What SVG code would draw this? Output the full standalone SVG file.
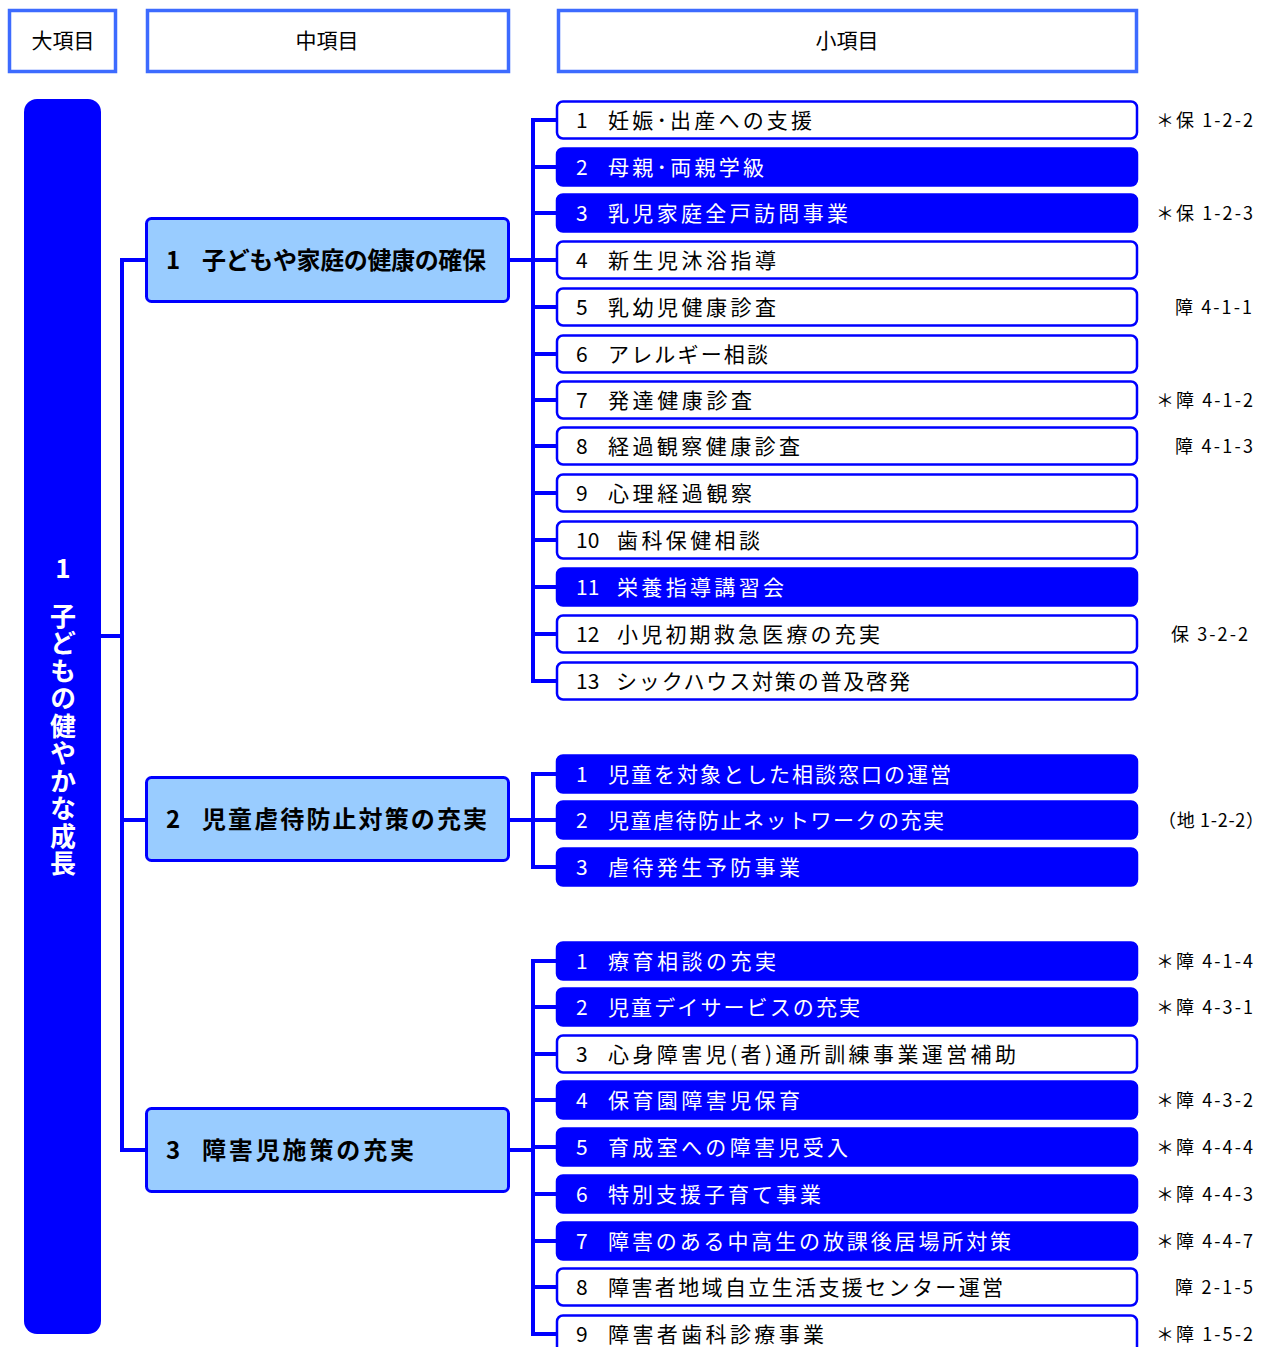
<svg xmlns="http://www.w3.org/2000/svg" width="1270" height="1347" viewBox="0 0 1270 1347">
<style>
text{font-family:"Noto Sans CJK JP","Liberation Sans",sans-serif}
.hdr{fill:#fff;stroke:#3d6bff;stroke-width:3.5}
.ht{font-size:21px;fill:#000;text-anchor:middle}
.mid{fill:#99ccff;stroke:#0000ff;stroke-width:3}
.mt{font-size:24px;font-weight:bold;fill:#000}
.io{fill:#fff;stroke:#0000ff;stroke-width:2.5}
.if{fill:#0000ff;stroke:#0000ff;stroke-width:2.5}
.to{font-size:21px;fill:#000}
.tf{font-size:21px;fill:#fff}
.lb{font-size:18px;fill:#000}
.conn{fill:none;stroke:#0000ff;stroke-width:4}
.vt{font-size:26px;font-weight:bold;fill:#fff;text-anchor:middle}
</style>

<g id="headers">
<g id="h-dai"><rect class="hdr" x="9.5" y="10.5" width="106" height="61"/><text class="ht" x="63" y="48">大項目</text></g>
<g id="h-chu"><rect class="hdr" x="147.5" y="10.5" width="361" height="61"/><text class="ht" x="327" y="48">中項目</text></g>
<g id="h-sho"><rect class="hdr" x="558.5" y="10.5" width="578" height="61"/><text class="ht" x="847" y="48">小項目</text></g>
</g>

<g id="connectors">
<path class="conn" d="M100,636 H122 M122,258 V1152 M122,260 H146 M122,820 H146 M122,1150 H146"/>
<path class="conn" d="M509,260 H533 M533,118 V683 M533,120 H557 M533,167 H557 M533,213 H557 M533,260 H557 M533,307 H557 M533,354 H557 M533,400 H557 M533,446 H557 M533,493 H557 M533,540 H557 M533,587 H557 M533,634 H557 M533,681 H557"/>
<path class="conn" d="M509,820 H533 M533,772 V869 M533,774 H557 M533,820 H557 M533,867 H557"/>
<path class="conn" d="M509,1150 H533 M533,959 V1336 M533,961 H557 M533,1007 H557 M533,1054 H557 M533,1100 H557 M533,1147 H557 M533,1194 H557 M533,1241 H557 M533,1287 H557 M533,1334 H557"/>
</g>

<g id="dai1">
<rect x="24" y="99" width="77" height="1235" rx="13" fill="#0000ff"/>
<text class="vt" x="63" y="578">1</text>
<text x="63" y="603" font-size="26" font-weight="bold" fill="#fff" style="writing-mode:vertical-rl" letter-spacing="1.5">子どもの健やかな成長</text>
</g>

<g id="chu1"><rect class="mid" x="146.5" y="218.5" width="362" height="83" rx="5"/><text class="mt" x="166" y="269">1</text><text class="mt" x="202" y="269" textLength="284" lengthAdjust="spacing">子どもや家庭の健康の確保</text></g>
<g id="chu2"><rect class="mid" x="146.5" y="777.5" width="362" height="83" rx="5"/><text class="mt" x="166" y="828">2</text><text class="mt" x="202" y="828" textLength="285" lengthAdjust="spacing">児童虐待防止対策の充実</text></g>
<g id="chu3"><rect class="mid" x="146.5" y="1108.5" width="362" height="83" rx="5"/><text class="mt" x="166" y="1159">3</text><text class="mt" x="202" y="1159" textLength="212" lengthAdjust="spacing">障害児施策の充実</text></g>

<g id="g1-1"><rect class="io" x="557" y="101.5" width="580" height="37" rx="6"/><text class="to" x="576" y="128">1</text><text class="to" x="608" y="128" textLength="204" lengthAdjust="spacing">妊娠･出産への支援</text><text class="lb" x="1156" y="127" textLength="97" lengthAdjust="spacing">＊保 1-2-2</text></g>
<g id="g1-2"><rect class="if" x="557" y="148.5" width="580" height="37" rx="6"/><text class="tf" x="576" y="175">2</text><text class="tf" x="608" y="175" textLength="156" lengthAdjust="spacing">母親･両親学級</text></g>
<g id="g1-3"><rect class="if" x="557" y="194.5" width="580" height="37" rx="6"/><text class="tf" x="576" y="221">3</text><text class="tf" x="608" y="221" textLength="240" lengthAdjust="spacing">乳児家庭全戸訪問事業</text><text class="lb" x="1156" y="220" textLength="97" lengthAdjust="spacing">＊保 1-2-3</text></g>
<g id="g1-4"><rect class="io" x="557" y="241.5" width="580" height="37" rx="6"/><text class="to" x="576" y="268">4</text><text class="to" x="608" y="268" textLength="168" lengthAdjust="spacing">新生児沐浴指導</text></g>
<g id="g1-5"><rect class="io" x="557" y="288.5" width="580" height="37" rx="6"/><text class="to" x="576" y="315">5</text><text class="to" x="608" y="315" textLength="168" lengthAdjust="spacing">乳幼児健康診査</text><text class="lb" x="1175" y="314" textLength="77" lengthAdjust="spacing">障 4-1-1</text></g>
<g id="g1-6"><rect class="io" x="557" y="335.5" width="580" height="37" rx="6"/><text class="to" x="576" y="362">6</text><text class="to" x="608" y="362" textLength="160" lengthAdjust="spacing">アレルギー相談</text></g>
<g id="g1-7"><rect class="io" x="557" y="381.5" width="580" height="37" rx="6"/><text class="to" x="576" y="408">7</text><text class="to" x="608" y="408" textLength="144" lengthAdjust="spacing">発達健康診査</text><text class="lb" x="1156" y="407" textLength="97" lengthAdjust="spacing">＊障 4-1-2</text></g>
<g id="g1-8"><rect class="io" x="557" y="427.5" width="580" height="37" rx="6"/><text class="to" x="576" y="454">8</text><text class="to" x="608" y="454" textLength="192" lengthAdjust="spacing">経過観察健康診査</text><text class="lb" x="1175" y="453" textLength="78" lengthAdjust="spacing">障 4-1-3</text></g>
<g id="g1-9"><rect class="io" x="557" y="474.5" width="580" height="37" rx="6"/><text class="to" x="576" y="501">9</text><text class="to" x="608" y="501" textLength="144" lengthAdjust="spacing">心理経過観察</text></g>
<g id="g1-10"><rect class="io" x="557" y="521.5" width="580" height="37" rx="6"/><text class="to" x="576" y="548">10</text><text class="to" x="617" y="548" textLength="143" lengthAdjust="spacing">歯科保健相談</text></g>
<g id="g1-11"><rect class="if" x="557" y="568.5" width="580" height="37" rx="6"/><text class="tf" x="576" y="595">11</text><text class="tf" x="617" y="595" textLength="167" lengthAdjust="spacing">栄養指導講習会</text></g>
<g id="g1-12"><rect class="io" x="557" y="615.5" width="580" height="37" rx="6"/><text class="to" x="576" y="642">12</text><text class="to" x="617" y="642" textLength="263" lengthAdjust="spacing">小児初期救急医療の充実</text><text class="lb" x="1171" y="641" textLength="77" lengthAdjust="spacing">保 3-2-2</text></g>
<g id="g1-13"><rect class="io" x="557" y="662.5" width="580" height="37" rx="6"/><text class="to" x="576" y="689">13</text><text class="to" x="616" y="689" textLength="294" lengthAdjust="spacing">シックハウス対策の普及啓発</text></g>

<g id="g2-1"><rect class="if" x="557" y="755.5" width="580" height="37" rx="6"/><text class="tf" x="576" y="782">1</text><text class="tf" x="608" y="782" textLength="343" lengthAdjust="spacing">児童を対象とした相談窓口の運営</text></g>
<g id="g2-2"><rect class="if" x="557" y="801.5" width="580" height="37" rx="6"/><text class="tf" x="576" y="828">2</text><text class="tf" x="608" y="828" textLength="336" lengthAdjust="spacing">児童虐待防止ネットワークの充実</text><text class="lb" x="1158" y="827" textLength="106" lengthAdjust="spacing">（地 1-2-2）</text></g>
<g id="g2-3"><rect class="if" x="557" y="848.5" width="580" height="37" rx="6"/><text class="tf" x="576" y="875">3</text><text class="tf" x="608" y="875" textLength="192" lengthAdjust="spacing">虐待発生予防事業</text></g>

<g id="g3-1"><rect class="if" x="557" y="942.5" width="580" height="37" rx="6"/><text class="tf" x="576" y="969">1</text><text class="tf" x="608" y="969" textLength="168" lengthAdjust="spacing">療育相談の充実</text><text class="lb" x="1156" y="968" textLength="97" lengthAdjust="spacing">＊障 4-1-4</text></g>
<g id="g3-2"><rect class="if" x="557" y="988.5" width="580" height="37" rx="6"/><text class="tf" x="576" y="1015">2</text><text class="tf" x="608" y="1015" textLength="252" lengthAdjust="spacing">児童デイサービスの充実</text><text class="lb" x="1156" y="1014" textLength="97" lengthAdjust="spacing">＊障 4-3-1</text></g>
<g id="g3-3"><rect class="io" x="557" y="1035.5" width="580" height="37" rx="6"/><text class="to" x="576" y="1062">3</text><text class="to" x="608" y="1062" textLength="408" lengthAdjust="spacing">心身障害児(者)通所訓練事業運営補助</text></g>
<g id="g3-4"><rect class="if" x="557" y="1081.5" width="580" height="37" rx="6"/><text class="tf" x="576" y="1108">4</text><text class="tf" x="608" y="1108" textLength="192" lengthAdjust="spacing">保育園障害児保育</text><text class="lb" x="1156" y="1107" textLength="97" lengthAdjust="spacing">＊障 4-3-2</text></g>
<g id="g3-5"><rect class="if" x="557" y="1128.5" width="580" height="37" rx="6"/><text class="tf" x="576" y="1155">5</text><text class="tf" x="608" y="1155" textLength="240" lengthAdjust="spacing">育成室への障害児受入</text><text class="lb" x="1156" y="1154" textLength="97" lengthAdjust="spacing">＊障 4-4-4</text></g>
<g id="g3-6"><rect class="if" x="557" y="1175.5" width="580" height="37" rx="6"/><text class="tf" x="576" y="1202">6</text><text class="tf" x="608" y="1202" textLength="213" lengthAdjust="spacing">特別支援子育て事業</text><text class="lb" x="1156" y="1201" textLength="97" lengthAdjust="spacing">＊障 4-4-3</text></g>
<g id="g3-7"><rect class="if" x="557" y="1222.5" width="580" height="37" rx="6"/><text class="tf" x="576" y="1249">7</text><text class="tf" x="608" y="1249" textLength="403" lengthAdjust="spacing">障害のある中高生の放課後居場所対策</text><text class="lb" x="1156" y="1248" textLength="97" lengthAdjust="spacing">＊障 4-4-7</text></g>
<g id="g3-8"><rect class="io" x="557" y="1268.5" width="580" height="37" rx="6"/><text class="to" x="576" y="1295">8</text><text class="to" x="608" y="1295" textLength="395" lengthAdjust="spacing">障害者地域自立生活支援センター運営</text><text class="lb" x="1175" y="1294" textLength="78" lengthAdjust="spacing">障 2-1-5</text></g>
<g id="g3-9"><rect class="io" x="557" y="1315.5" width="580" height="37" rx="6"/><text class="to" x="576" y="1342">9</text><text class="to" x="608" y="1342" textLength="216" lengthAdjust="spacing">障害者歯科診療事業</text><text class="lb" x="1156" y="1341" textLength="97" lengthAdjust="spacing">＊障 1-5-2</text></g>
</svg>
